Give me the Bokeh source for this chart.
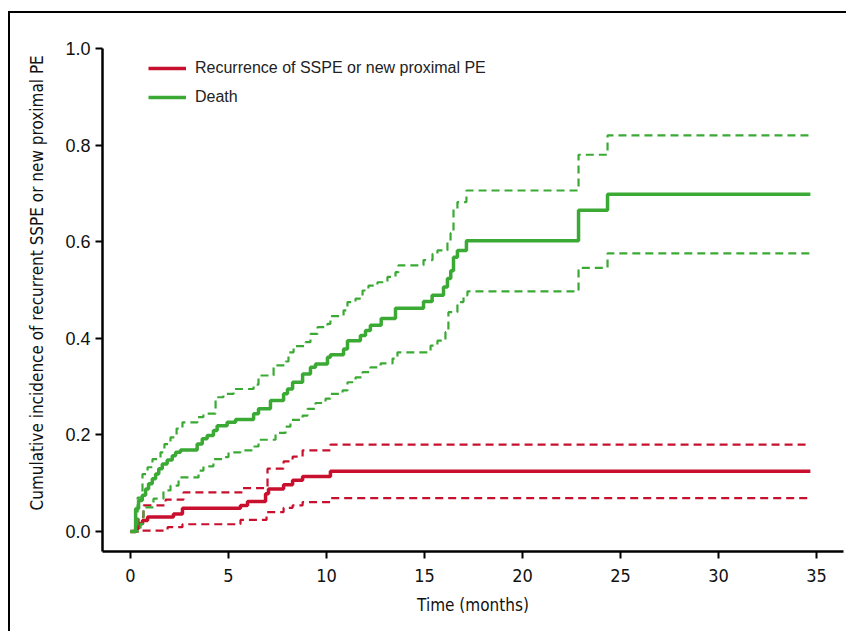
from bokeh.plotting import figure
from bokeh.models import Range1d, FixedTicker, Legend, LegendItem, NumeralTickFormatter, Title
from bokeh.embed import file_html
from bokeh.resources import INLINE

# ---- data ----
x_ticks = [0, 5, 10, 15, 20, 25, 30, 35]
y_ticks = [0.0, 0.2, 0.4, 0.6, 0.8, 1.0]
x_title = "Time (months)"
y_title = "Cumulative incidence of recurrent SSPE or new proximal PE"
end_time = 34.69

death_t = [0.0, 0.26, 0.41, 0.60, 0.77, 0.92, 1.11, 1.28, 1.44, 1.62, 1.87, 2.13, 2.30, 2.55,
           3.40, 3.66, 3.91, 4.23, 4.42, 4.93, 5.36, 6.28, 6.53, 7.14, 7.81, 8.01, 8.27, 8.78,
           9.18, 9.44, 10.05, 10.20, 10.87, 11.07, 11.73, 11.99, 12.24, 12.79, 13.52, 14.95,
           15.39, 15.97, 16.17, 16.34, 16.48, 16.68, 17.14, 22.86, 24.34, end_time]
death_v = [0.0, 0.047, 0.064, 0.075, 0.088, 0.099, 0.109, 0.119, 0.130, 0.140, 0.148, 0.157, 0.164, 0.169,
           0.181, 0.192, 0.199, 0.209, 0.219, 0.226, 0.232, 0.244, 0.254, 0.271, 0.285, 0.295, 0.309, 0.326,
           0.340, 0.347, 0.361, 0.366, 0.378, 0.395, 0.406, 0.416, 0.427, 0.441, 0.462, 0.476,
           0.489, 0.506, 0.524, 0.540, 0.568, 0.582, 0.602, 0.665, 0.698, 0.698]

death_hi_t = [0.0, 0.36, 0.61, 0.87, 1.12, 1.53, 1.73, 2.04, 2.35, 2.65, 3.42, 3.72, 4.34, 4.74,
              5.26, 6.28, 6.53, 7.30, 7.91, 8.06, 8.32, 8.93, 9.18, 9.54, 10.05, 10.20, 10.87,
              11.07, 11.48, 11.84, 12.14, 12.60, 13.11, 13.52, 13.67, 14.95, 15.41, 15.66, 16.17,
              16.33, 16.48, 16.68, 17.14, 22.86, 24.34, end_time]
death_hi_v = [0.0, 0.070, 0.119, 0.133, 0.150, 0.164, 0.181, 0.195, 0.213, 0.226, 0.237, 0.244, 0.278, 0.285,
              0.295, 0.304, 0.323, 0.344, 0.352, 0.371, 0.384, 0.392, 0.409, 0.423, 0.430, 0.446, 0.458,
              0.475, 0.482, 0.499, 0.509, 0.516, 0.527, 0.537, 0.551, 0.562, 0.575, 0.582, 0.599,
              0.618, 0.667, 0.682, 0.706, 0.780, 0.820, 0.820]

death_lo_t = [0.0, 0.51, 0.66, 1.17, 1.68, 2.04, 2.45, 3.47, 3.72, 4.23, 4.69, 5.00, 5.61, 6.22,
              6.53, 7.40, 7.91, 8.16, 8.78, 9.03, 9.44, 9.95, 10.20, 10.82, 11.07, 11.48, 11.84,
              12.24, 12.76, 13.37, 13.62, 15.31, 15.66, 16.07, 16.22, 16.68, 16.99, 17.19,
              22.86, 24.34, end_time]
death_lo_v = [0.0, 0.016, 0.050, 0.068, 0.085, 0.095, 0.112, 0.126, 0.135, 0.150, 0.154, 0.164, 0.168, 0.176,
              0.190, 0.204, 0.217, 0.231, 0.240, 0.254, 0.266, 0.275, 0.285, 0.292, 0.309, 0.319, 0.330,
              0.340, 0.348, 0.358, 0.371, 0.385, 0.395, 0.413, 0.454, 0.475, 0.489, 0.497,
              0.546, 0.576, 0.576]

rec_t = [0.0, 0.26, 0.41, 0.61, 0.87, 2.19, 2.65, 5.61, 5.97, 6.89, 7.04, 7.81, 8.27, 8.78, 10.20, end_time]
rec_v = [0.0, 0.006, 0.016, 0.023, 0.030, 0.036, 0.048, 0.054, 0.062, 0.078, 0.088, 0.097, 0.106, 0.114, 0.125, 0.125]

rec_hi_t = [0.0, 0.41, 0.66, 1.79, 2.70, 5.71, 6.99, 7.81, 8.27, 8.78, 10.20, end_time]
rec_hi_v = [0.0, 0.030, 0.054, 0.066, 0.081, 0.090, 0.130, 0.145, 0.155, 0.168, 0.180, 0.180]

rec_lo_t = [0.0, 0.61, 1.89, 2.65, 5.61, 6.94, 7.81, 8.27, 8.78, 10.20, end_time]
rec_lo_v = [0.0, 0.002, 0.009, 0.015, 0.024, 0.040, 0.049, 0.054, 0.061, 0.069, 0.069]

RED = "#c8102e"
GREEN = "#3aaa35"
NARROW = "DejaVu Sans Condensed, Liberation Sans"
REG = "Liberation Sans"

p = figure(width=838, height=620, output_backend="svg", toolbar_location=None,
           x_range=Range1d(-1.43, 36.38), y_range=Range1d(-0.0414, 1.0),
           min_border_left=92, min_border_right=5, min_border_top=35, min_border_bottom=82)
p.styles = {"border-left": "2px solid black", "border-top": "2px solid black",
            "margin-top": "11px", "margin-left": "8px"}

p.outline_line_color = None
p.xgrid.visible = False
p.ygrid.visible = False
p.background_fill_color = "white"
p.border_fill_color = "white"

r_rec = p.step(rec_t, rec_v, mode="after", line_color=RED, line_width=3.5)
p.step(rec_hi_t, rec_hi_v, mode="after", line_color=RED, line_width=2.2, line_dash="8 5")
p.step(rec_lo_t, rec_lo_v, mode="after", line_color=RED, line_width=2.2, line_dash="8 5")
r_death = p.step(death_t, death_v, mode="after", line_color=GREEN, line_width=3.5)
p.step(death_hi_t, death_hi_v, mode="after", line_color=GREEN, line_width=2.2, line_dash="8 5")
p.step(death_lo_t, death_lo_v, mode="after", line_color=GREEN, line_width=2.2, line_dash="8 5")

# axes
for ax in (p.xaxis[0], p.yaxis[0]):
    ax.axis_line_color = "black"
    ax.axis_line_width = 2.5
    ax.major_tick_line_color = "black"
    ax.major_tick_line_width = 2
    ax.major_tick_in = 0
    ax.major_tick_out = 7
    ax.minor_tick_line_color = None
    ax.major_label_text_color = "#111111"
    ax.axis_label_text_color = "#111111"
    ax.axis_label_text_font_style = "normal"

p.xaxis.ticker = FixedTicker(ticks=x_ticks)
p.xaxis.major_label_text_font = NARROW
p.xaxis.major_label_text_font_size = "18px"
p.xaxis.major_label_standoff = 10
p.xaxis.axis_label = x_title
p.xaxis.axis_label_text_font = NARROW
p.xaxis.axis_label_text_font_size = "17px"
p.xaxis.axis_label_standoff = 10

p.yaxis.ticker = FixedTicker(ticks=y_ticks)
p.yaxis.formatter = NumeralTickFormatter(format="0.0")
p.yaxis.major_label_text_font = REG
p.yaxis.major_label_text_font_size = "18px"
p.yaxis.major_label_standoff = 5

# y title in the left panel, started a little above the frame bottom as in the reference
ytitle = Title(text=y_title, align="left", offset=41, vertical_align="middle", standoff=30,
               text_font=NARROW, text_font_size="17px", text_font_style="normal",
               text_color="#111111")
p.add_layout(ytitle, "left")

legend = Legend(items=[LegendItem(label="Recurrence of SSPE or new proximal PE", renderers=[r_rec]),
                       LegendItem(label="Death", renderers=[r_death])],
                location=(46, 444), padding=0, margin=0, spacing=9,
                glyph_width=38, glyph_height=20, label_height=20, label_standoff=9,
                label_text_font=REG, label_text_font_size="16px", label_text_color="#222222",
                border_line_color=None, background_fill_alpha=0)
p.add_layout(legend)

open("out.html", "w").write(file_html(p, INLINE))
